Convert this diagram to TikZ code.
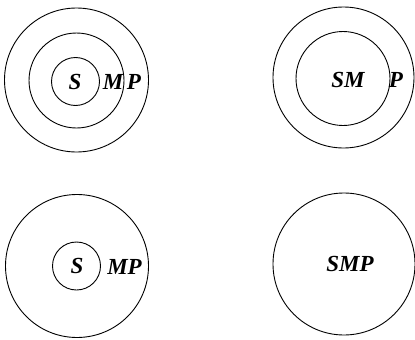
\documentclass[tikz,border=0pt]{standalone}
\usepackage{fontspec}
\setmainfont{Liberation Serif}
\begin{document}
\begin{tikzpicture}[x=1pt,y=-1pt,
  ring/.style={draw,circle,line width=0.9pt,inner sep=0pt},
  lab/.style={font=\fontsize{23}{25}\selectfont\bfseries\itshape,inner sep=0pt}]
\useasboundingbox (0,0) rectangle (415,340);
% top left
\node[ring,minimum size=144pt] (a1) at (76.5,80) {};
\node[ring,minimum size=95pt] (a2) at (76.5,80.5) {};
\node[ring,minimum size=48pt] (a3) at (75.5,81.5) {};
\node[lab] (aS) at (75,82) {S};
\node[lab] (aM) at (113,82) {M};
\node[lab] (aP) at (134,82) {P};
% top right
\node[ring,minimum size=141pt] (b1) at (343.5,77.5) {};
\node[ring,minimum size=94pt] (b2) at (343,78.5) {};
\node[lab] (bSM) at (348,80) {SM};
\node[lab] (bP) at (396,80) {P};
% bottom left
\node[ring,minimum size=143pt] (c1) at (77,266) {};
\node[ring,minimum size=48pt] (c2) at (76.5,266) {};
\node[lab] (cS) at (77,266) {S};
\node[lab] (cMP) at (124.5,267) {MP};
% bottom right
\node[ring,minimum size=142pt] (d1) at (344,264) {};
\node[lab] (dSMP) at (350,264) {SMP};
\end{tikzpicture}
\end{document}
